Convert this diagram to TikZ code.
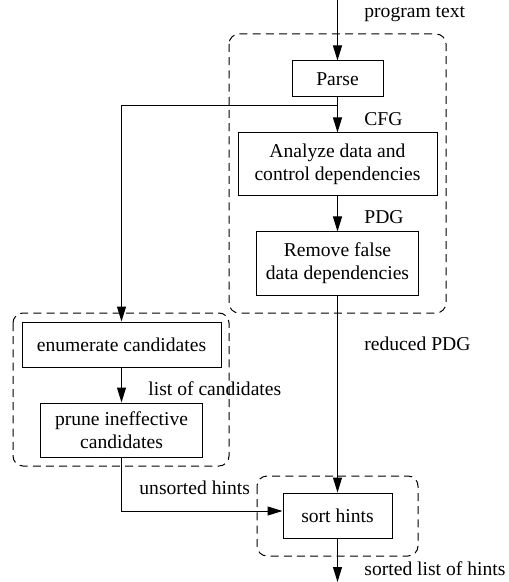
\documentclass[tikz,border=0pt]{standalone}
\usepackage{fontspec}
\setmainfont{Liberation Serif}
\usetikzlibrary{arrows.meta}
\begin{document}
\begin{tikzpicture}[x=0.5pt,y=-0.5pt,
  every node/.style={font=\fontsize{9.8}{11.6}\selectfont},
  box/.style={draw,line width=0.5pt,inner sep=0pt,align=center},
  lbl/.style={anchor=mid west,inner sep=0pt},
  arr/.style={line width=0.5pt,-{Triangle[length=7.5pt,width=4.5pt]}},
  grp/.style={line width=0.5pt,dash pattern=on 4pt off 2.6pt,rounded corners=5pt}]
\useasboundingbox (0,0) rectangle (508,582);
% groups
\draw[grp] (229,34) rectangle (446,313);
\draw[grp] (13,313) rectangle (229,466);
\draw[grp] (257,476) rectangle (418,556);
% boxes
\node[box,minimum width=45.5pt,minimum height=18pt] (parse) at (337.5,79) {Parse};
\node[box,minimum width=99.5pt,minimum height=31.5pt] (analyze) at (337.5,164.5) {Analyze data and\\control dependencies};
\node[box,minimum width=81pt,minimum height=31.5pt] (remove) at (337.5,263.5) {Remove false\\data dependencies};
\node[box,minimum width=99.5pt,minimum height=22.5pt] (enum) at (121.5,344.5) {enumerate candidates};
\node[box,minimum width=81pt,minimum height=27pt] (prune) at (121.5,430) {prune ineffective\\candidates};
\node[box,minimum width=54.5pt,minimum height=22.5pt] (sort) at (337.5,515.5) {sort hints};
% labels
\node[lbl] (lprog) at (364,12.5) {program text};
\node[lbl] (lcfg) at (364,120.5) {CFG};
\node[lbl] (lpdg) at (364,218.5) {PDG};
\node[lbl] (lred) at (364,345.5) {reduced PDG};
\node[lbl] (llist) at (148,390.5) {list of candidates};
\node[lbl] (lunsort) at (139,490) {unsorted hints};
\node[lbl] (lsorted) at (364,571) {sorted list of hints};
% connectors
\coordinate (in) at (337.5,0);
\coordinate (br) at (337.5,106);
\coordinate (out) at (337.5,582);
\draw[arr] (in) -- (parse);
\draw[arr] (parse) -- (analyze);
\draw[arr] (analyze) -- (remove);
\draw[arr] (remove) -- (sort);
\draw[arr] (br) -| (enum);
\draw[arr] (enum) -- (prune);
\draw[arr] (prune) |- ([yshift=2.25pt]sort.west);
\draw[arr] (sort) -- (out);
\end{tikzpicture}
\end{document}
